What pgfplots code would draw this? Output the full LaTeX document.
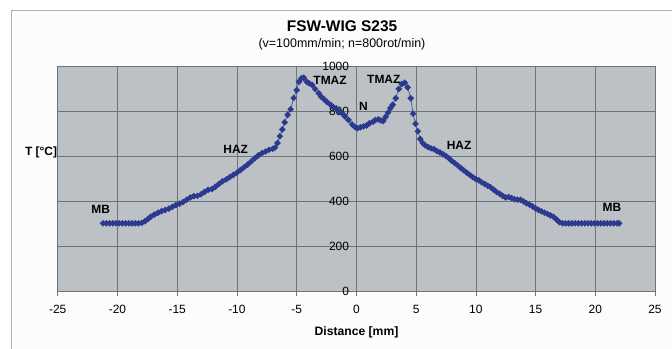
\documentclass[border=0pt]{standalone}
\usepackage{fontspec}
\setmainfont{Liberation Sans}
\usepackage{pgfplots}
\pgfplotsset{compat=1.18}
\definecolor{plotbg}{HTML}{BCC1C5}
\definecolor{gridc}{HTML}{6E7378}
\definecolor{mk}{HTML}{2B3A8E}
\definecolor{ln}{HTML}{3A55A8}
\definecolor{framec}{HTML}{A9B0B6}
\definecolor{outerbg}{HTML}{FCFCFC}
\begin{document}
\begin{tikzpicture}
\useasboundingbox (-57.7bp,-57.5bp) rectangle (614.3bp,291.5bp);
\fill[white] (-57.7bp,-57.5bp) rectangle (614.3bp,291.5bp);
\filldraw[fill=outerbg, draw=framec, line width=0.8bp] (-46.7bp,-80bp) rectangle (640bp,280.8bp);
\begin{axis}[at={(0,0)}, anchor=south west, scale only axis,
  width=597.3bp, height=225bp,
  xmin=-25, xmax=25, ymin=0, ymax=1000,
  xtick={-25,-20,...,25}, ytick={0,200,...,1000},
  grid=major, major grid style={gridc, line width=0.6bp},
  axis background/.style={fill=plotbg},
  axis line style={gridc, line width=0.6bp},
  xtick style={gridc, line width=0.6bp},
  ytick style={draw=none},
  xtick pos=left, ytick pos=left,
  tick align=outside, major tick length=4bp,
  /pgf/number format/assume math mode=true,
  /pgf/number format/1000 sep={},
  ticklabel style={font=\fontsize{12}{14}\selectfont},
  xticklabel style={yshift=-6bp},
  yticklabel style={anchor=east, xshift=298.8bp},
  clip=false,
]
\draw[gridc, line width=0.9bp] (axis cs:0,0) -- (axis cs:0,1000);
\addplot[ln, line width=0.7bp, mark=square*, mark size=2.0bp,
  mark options={mk, fill=mk, rotate=45}] table {
x T
-21.2 303
-20.93 303
-20.66 303
-20.39 303
-20.12 303
-19.85 303
-19.58 303
-19.31 303
-19.04 303
-18.77 303
-18.5 303
-18.23 303
-17.96 305
-17.7 312
-17.45 322
-17.2 333
-16.9 342
-16.6 350
-16.3 357
-16.0 362
-15.7 368
-15.4 376
-15.1 384
-14.8 390
-14.5 398
-14.2 408
-13.9 418
-13.6 424
-13.3 425
-13.0 432
-12.7 443
-12.4 452
-12.1 455
-11.8 465
-11.5 478
-11.2 490
-10.9 498
-10.6 508
-10.3 518
-10.0 528
-9.7 540
-9.4 552
-9.1 564
-8.8 578
-8.5 592
-8.2 605
-7.9 615
-7.6 622
-7.3 630
-7.0 634
-6.8 640
-6.6 660
-6.4 690
-6.2 720
-6.0 752
-5.75 785
-5.5 810
-5.25 860
-5.0 895
-4.8 932
-4.6 948
-4.4 950
-4.15 932
-3.95 925
-3.7 918
-3.45 900
-3.15 881
-2.95 866
-2.7 854
-2.45 842
-2.15 829
-1.95 820
-1.7 814
-1.45 800
-1.2 792
-0.95 778
-0.65 762
-0.35 742
-0.1 730
0.1 726
0.35 730
0.6 734
0.85 738
1.1 748
1.4 755
1.6 762
1.85 765
2.05 760
2.25 758
2.45 776
2.65 795
2.85 815
3.05 830
3.3 859
3.55 900
3.8 922
4.05 928
4.3 907
4.55 859
4.75 790
4.95 745
5.15 712
5.35 678
5.55 660
5.75 650
6.0 642
6.25 636
6.5 632
6.75 624
7.0 618
7.25 610
7.5 602
7.75 592
8.0 580
8.25 570
8.5 560
8.75 548
9.0 538
9.25 528
9.5 518
9.75 508
10.0 500
10.25 494
10.5 485
10.75 478
11.0 470
11.25 463
11.5 452
11.75 442
12.0 434
12.25 425
12.5 418
12.75 420
13.0 415
13.25 410
13.5 408
13.75 407
14.0 400
14.25 392
14.5 386
14.75 378
15.0 370
15.25 362
15.5 356
15.75 350
16.0 345
16.25 338
16.5 332
16.75 320
17.0 308
17.25 303
17.5 303
17.77 303
18.04 303
18.31 303
18.58 303
18.85 303
19.12 303
19.39 303
19.66 303
19.93 303
20.2 303
20.47 303
20.74 303
21.01 303
21.28 303
21.55 303
21.82 303
22.0 303
};
\begin{scope}[every node/.style={font=\bfseries\fontsize{12}{14}\selectfont, inner sep=0pt}]
\node at (axis cs:-21.4,367) {MB};
\node at (axis cs:-10.1,632) {HAZ};
\node at (axis cs:-2.2,940) {TMAZ};
\node at (axis cs:0.6,821) {N};
\node at (axis cs:2.3,944) {TMAZ};
\node at (axis cs:8.6,651) {HAZ};
\node at (axis cs:21.4,372) {MB};
\end{scope}
\end{axis}
\node[font=\bfseries\fontsize{15.5}{18}\selectfont, inner sep=0pt] at (284.3bp,265.8bp) {FSW-WIG S235};
\node[font=\fontsize{12.5}{15}\selectfont, inner sep=0pt] at (284.3bp,247.5bp) {(v=100mm/min; n=800rot/min)};
\node[font=\bfseries\fontsize{12.2}{14}\selectfont, inner sep=0pt] at (298.8bp,-41.2bp) {Distance [mm]};
\node[font=\bfseries\fontsize{12}{14}\selectfont, inner sep=0pt, anchor=east] at (-0.4bp,138.8bp) {T [°C]};
\end{tikzpicture}
\end{document}
